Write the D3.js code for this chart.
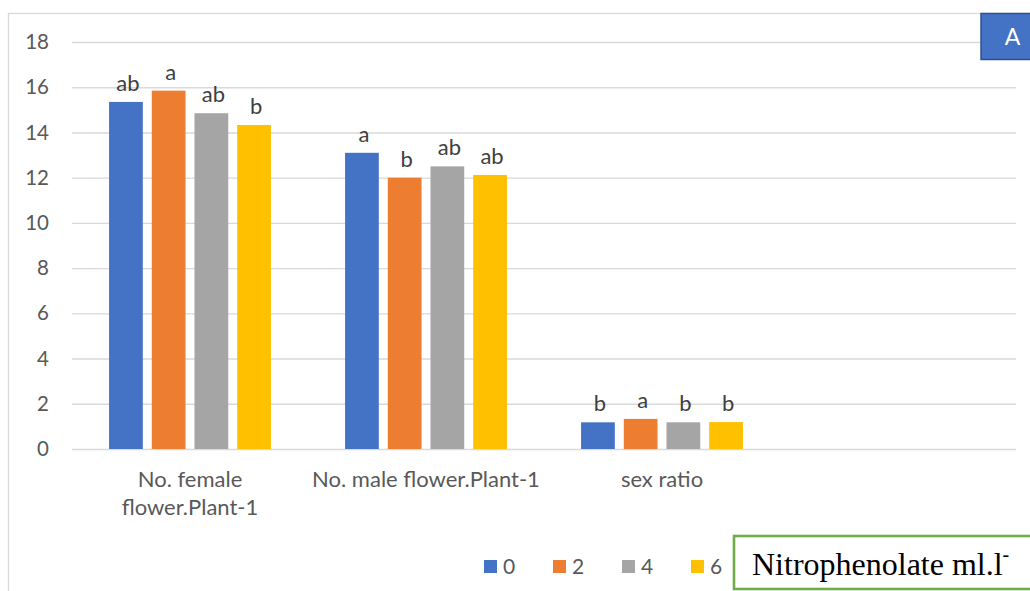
<!DOCTYPE html>
<html>
<head>
<meta charset="utf-8">
<script src="https://cdn.jsdelivr.net/npm/d3@7"></script>
<style>
  html, body { margin: 0; padding: 0; background: #fff; }
  svg { display: block; }
</style>
</head>
<body>
<svg id="chart" width="1030" height="591"></svg>
<script>
// Flower counts and sex ratio under four Nitrophenolate doses
const categories = [["No. female", "flower.Plant-1"], ["No. male flower.Plant-1"], ["sex ratio"], [""]];
const categoryKeys = ["female", "male", "ratio", "blank"];
const seriesNames = ["0", "2", "4", "6"];
const seriesColors = ["#4472C4", "#ED7D31", "#A5A5A5", "#FFC000"];
const femaleValues = [15.35, 15.85, 14.85, 14.33];
const maleValues = [13.1, 12.0, 12.5, 12.12];
const ratioValues = [1.18, 1.33, 1.18, 1.19];
const femaleLetters = ["ab", "a", "ab", "b"];
const maleLetters = ["a", "b", "ab", "ab"];
const ratioLetters = ["b", "a", "b", "b"];
const yTicks = [0, 2, 4, 6, 8, 10, 12, 14, 16, 18];

const groups = [
  { key: "female", values: femaleValues, letters: femaleLetters },
  { key: "male", values: maleValues, letters: maleLetters },
  { key: "ratio", values: ratioValues, letters: ratioLetters }
];

const svg = d3.select("#chart");
const font = "Lato, 'Open Sans', sans-serif";

// chart frame
svg.append("rect")
  .attr("x", 8.5).attr("y", 13.5)
  .attr("width", 1100).attr("height", 700)
  .attr("fill", "#fff").attr("stroke", "#d9d9d9").attr("stroke-width", 1.3);

const plot = { left: 72, right: 1016, top: 42, bottom: 449 };

const x0 = d3.scaleBand().domain(categoryKeys).range([plot.left, plot.right]).padding(0);
const x1 = d3.scaleBand().domain(seriesNames).range([0, x0.bandwidth()])
  .paddingInner(0.21).paddingOuter(0.868);
const y = d3.scaleLinear().domain([0, 18]).range([plot.bottom, plot.top]);
const color = d3.scaleOrdinal().domain(seriesNames).range(seriesColors);

// gridlines + tick labels
const yAxis = d3.axisLeft(y).tickValues(yTicks).tickSize(-(plot.right - plot.left)).tickPadding(23);
const gy = svg.append("g").attr("transform", `translate(${plot.left},0)`).call(yAxis);
gy.select(".domain").remove();
gy.selectAll(".tick line").attr("stroke", "#d9d9d9").attr("stroke-width", 1.4);
gy.selectAll(".tick text")
  .attr("fill", "#595959").attr("font-family", font).attr("font-size", 20.5);

// bars
const gGroups = svg.append("g").selectAll("g").data(groups).join("g")
  .attr("transform", d => `translate(${x0(d.key)},0)`);

gGroups.selectAll("rect")
  .data(d => d.values.map((v, i) => ({ s: seriesNames[i], v, label: d.letters[i] })))
  .join("rect")
  .attr("x", d => x1(d.s))
  .attr("y", d => y(d.v))
  .attr("width", x1.bandwidth())
  .attr("height", d => y(0) - y(d.v))
  .attr("fill", d => color(d.s));

// significance letters
gGroups.selectAll("text.lbl")
  .data(d => d.values.map((v, i) => ({ s: seriesNames[i], v, label: d.letters[i] })))
  .join("text")
  .attr("class", "lbl")
  .attr("x", d => x1(d.s) + x1.bandwidth() / 2 + 2)
  .attr("y", d => y(d.v) - 11)
  .attr("text-anchor", "middle")
  .attr("fill", "#404040").attr("font-family", font).attr("font-size", 22)
  .text(d => d.label);

// category labels
const gCat = svg.append("g").selectAll("text").data(categoryKeys).join("text")
  .attr("x", d => x0(d) + x0.bandwidth() / 2)
  .attr("y", 487)
  .attr("text-anchor", "middle")
  .attr("fill", "#595959").attr("font-family", font).attr("font-size", 22);
gCat.each(function(d, i) {
  const t = d3.select(this);
  categories[i].forEach((line, j) => {
    t.append("tspan").attr("x", x0(d) + x0.bandwidth() / 2).attr("dy", j === 0 ? 0 : 28).text(line);
  });
});

// legend
const legend = svg.append("g").selectAll("g").data(seriesNames).join("g")
  .attr("transform", (d, i) => `translate(${484 + i * 69},560)`);
legend.append("rect").attr("width", 13).attr("height", 13).attr("fill", d => color(d));
legend.append("text").attr("x", 19).attr("y", 13.5)
  .attr("fill", "#595959").attr("font-family", font).attr("font-size", 21)
  .text(d => d);

// dose title box
svg.append("rect")
  .attr("x", 734).attr("y", 536).attr("width", 320).attr("height", 53)
  .attr("fill", "#fff").attr("stroke", "#70AD47").attr("stroke-width", 2.6);
const title = svg.append("text")
  .attr("x", 752).attr("y", 575)
  .attr("fill", "#000").attr("font-family", "'Liberation Serif', 'Times New Roman', serif")
  .attr("font-size", 32);
title.append("tspan").text("Nitrophenolate ml.l");
title.append("tspan").attr("font-size", 20).attr("dy", -14).text("-");

// panel tag
svg.append("rect")
  .attr("x", 981).attr("y", 13.5).attr("width", 70).attr("height", 46)
  .attr("fill", "#4472C4").attr("stroke", "#2F528F").attr("stroke-width", 1.5);
svg.append("text")
  .attr("x", 1012.5).attr("y", 45)
  .attr("text-anchor", "middle")
  .attr("fill", "#fff").attr("font-family", font).attr("font-size", 23)
  .text("A");
</script>
</body>
</html>
